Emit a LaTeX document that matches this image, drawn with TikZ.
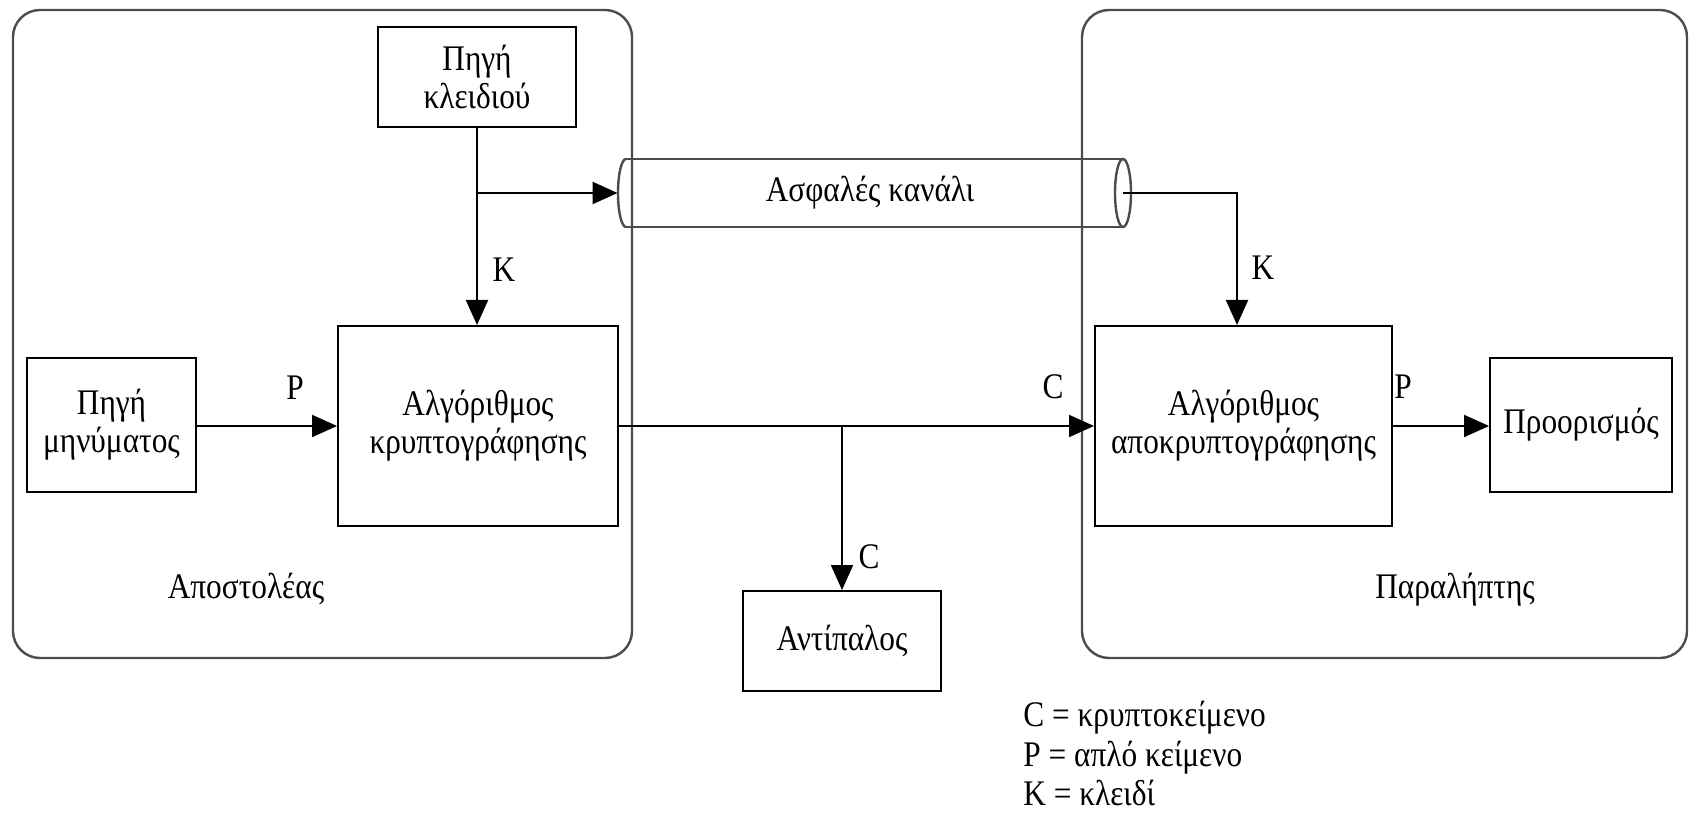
\documentclass[tikz,border=0pt]{standalone}
\usepackage{fontspec}
\setmainfont{Liberation Serif}[FakeStretch=0.87]
\usetikzlibrary{arrows.meta}
\begin{document}
\begin{tikzpicture}[x=0.5pt,y=-0.5pt,
  every node/.style={font=\fontsize{18}{19}\selectfont, inner sep=0pt},
  blk/.style={draw, line width=1pt, align=center, anchor=center},
  container/.style={draw=black!70, line width=1.2pt, rounded corners=13.5pt},
  cylline/.style={draw=black!70, line width=1.2pt},
  conn/.style={line width=1pt},
  arr/.style={conn, -{Triangle[length=12.5pt,width=11pt]}},
  lbl/.style={anchor=center},
  legend/.style={anchor=base west},
]
\useasboundingbox (0,0) rectangle (1690,817);
% containers
\draw[container] (13,10) rectangle (632,658);
\draw[container] (1082,10) rectangle (1687,658);
% blocks
\node[blk, minimum width=99pt, minimum height=50pt] (keysrc) at (477,77) {Πηγή\\κλειδιού};
\node[blk, minimum width=84.5pt, minimum height=67pt] (msgsrc) at (111.5,425) {Πηγή\\μηνύματος};
\node[blk, minimum width=140pt, minimum height=100pt] (enc) at (478,426) {Αλγόριθμος\\κρυπτογράφησης};
\node[blk, minimum width=148.5pt, minimum height=100pt] (dec) at (1243.5,426) {Αλγόριθμος\\αποκρυπτογράφησης};
\node[blk, minimum width=91pt, minimum height=67pt] (dest) at (1581,425) {Προορισμός};
\node[blk, minimum width=99pt, minimum height=50pt] (adv) at (842,641) {Αντίπαλος};
% channel cylinder
\node[minimum width=256.5pt, minimum height=34pt] (chan) at (874.5,193) {};
\node (chantext) at (870,193) {Ασφαλές κανάλι};
\draw[cylline] (626,159) -- (1123,159);
\draw[cylline] (626,227) -- (1123,227);
\draw[cylline] (626,159) arc[start angle=-90, end angle=-270, x radius=8, y radius=34];
\draw[cylline] (1123,193) ellipse[x radius=8, y radius=34];
\coordinate (chanR) at (1123,193);
% connectors
\coordinate (kb) at (keysrc.south |- chan.west);
\draw[arr] (keysrc.south) -- (keysrc.south |- enc.north);
\draw[arr] (kb) -- (chan.west);
\coordinate (kr) at (1237,193);
\draw[arr] (chanR) -- (kr) -- (kr |- dec.north);
\draw[arr] (msgsrc.east |- enc.west) -- (enc.west);
\draw[arr] (enc.east) -- (dec.west);
\coordinate (cb) at (adv.north |- enc.east);
\draw[arr] (cb) -- (adv.north);
\draw[arr] (dec.east) -- (dec.east -| dest.west);
% labels
\node[lbl] (k1) at (504,270) {K};
\node[lbl] (k2) at (1263,268) {K};
\node[lbl] (p1) at (295,388) {P};
\node[lbl] (c1) at (1053,387) {C};
\node[lbl] (p2) at (1403,387) {P};
\node[lbl] (c2) at (869,557) {C};
\node[anchor=base] (snd) at (246,598) {Αποστολέας};
\node[anchor=base] (rcv) at (1455,598) {Παραλήπτης};
% legend
\node[legend] (l1) at (1023,726) {C = κρυπτοκείμενο};
\node[legend] (l2) at (1023,766) {P = απλό κείμενο};
\node[legend] (l3) at (1023,805) {K = κλειδί};
\end{tikzpicture}
\end{document}
